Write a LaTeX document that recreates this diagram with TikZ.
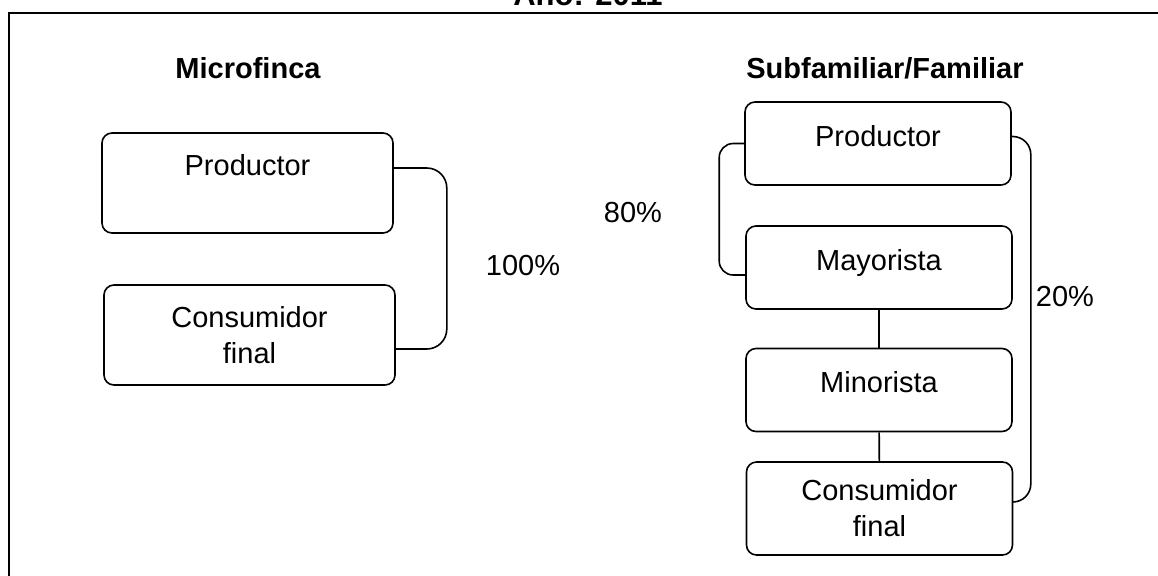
\documentclass[tikz,border=0pt]{standalone}
\usepackage{fontspec}
\setmainfont{Liberation Sans}
\begin{document}
\begin{tikzpicture}[x=0.5pt, y=-0.5pt,
    every node/.style={font=\fontsize{14.5}{18}\selectfont},
    box/.style={draw, line width=0.8pt, rounded corners=5pt, align=center, inner sep=0pt},
    lbox/.style={box, minimum width=145.5pt, minimum height=50pt},
    rbox/.style={box, minimum width=133pt, minimum height=41.5pt, text height=10.4pt, text depth=7.5pt},
    rcons/.style={box, minimum width=133pt, minimum height=46.5pt},
    head/.style={font=\fontsize{14.5}{18}\selectfont\bfseries, anchor=base},
    pct/.style={anchor=base},
    link/.style={line width=0.8pt}]
    \useasboundingbox (0,0) rectangle (1158,575);
    \clip (0,0) rectangle (1158,575);
    \draw [line width=1pt] (9,600) -- (9,13) -- (1180,13);
    \node [head, font=\fontsize{15.5}{18}\selectfont\bfseries] (anio) at (588,5) {Año: 2011};
    \node [head] (micro) at (248,78) {Microfinca};
    \node [head] (subfam) at (885,78) {Subfamiliar/Familiar};
    \node [lbox] (pL) at (247.5,183) {Productor\\\mbox{}};
    \node [lbox] (cL) at (249.5,335) {Consumidor\\final};
    \node [rbox] (pR) at (878,143.5) {Productor};
    \node [rbox] (mR) at (879,267.5) {Mayorista};
    \node [rbox] (nR) at (879,390) {Minorista};
    \node [rcons] (cR) at (879.5,508.5) {Consumidor\\final};
    \node [pct] (p100) at (523,275) {100\%};
    \node [pct] (p80) at (633,222) {80\%};
    \node [pct] (p20) at (1065,306) {20\%};
    \draw [link, rounded corners=10pt] ([yshift=7.5pt]pL.east) -- ++(26.5pt,0) |- ([yshift=-7pt]cL.east);
    \draw [link, rounded corners=7pt] (pR.west) -- ++(-12.5pt,0) |- ([yshift=-3.75pt]mR.west);
    \draw [link, rounded corners=9pt] ([yshift=3.5pt]pR.east) -- ++(9.5pt,0) |- ([yshift=3.25pt]cR.east);
    \draw [link] (mR) -- (nR);
    \draw [link] (nR) -- (cR);
\end{tikzpicture}
\end{document}
